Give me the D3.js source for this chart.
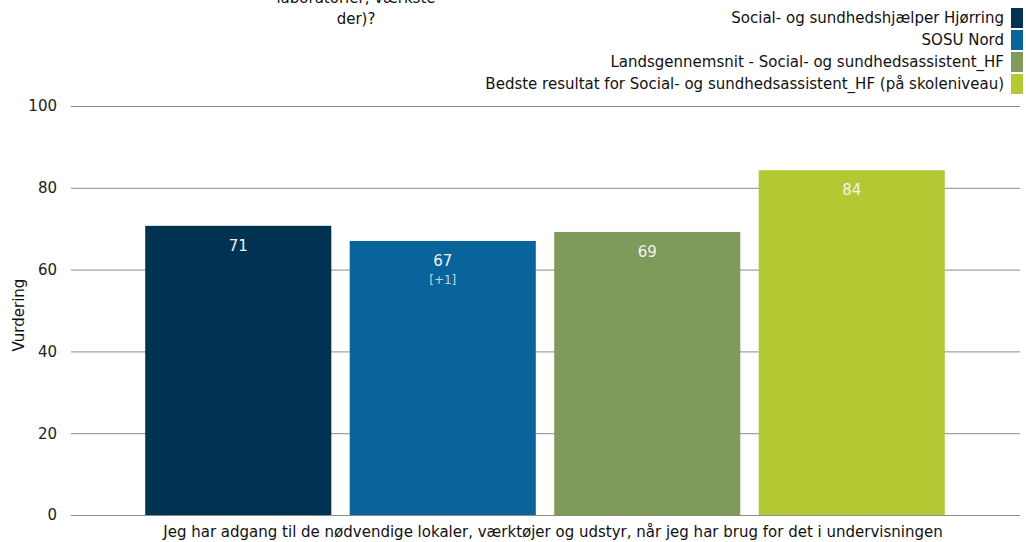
<!DOCTYPE html>
<html>
<head>
<meta charset="utf-8">
<script src="https://cdn.jsdelivr.net/npm/d3@7"></script>
<style>
  body { margin: 0; background: #fff; }
  svg text { font-family: "DejaVu Sans", Verdana, sans-serif; }
</style>
</head>
<body>
<div id="chart"></div>
<script>
// data
var seriesNames = [
    "Social- og sundhedshjælper Hjørring",
    "SOSU Nord",
    "Landsgennemsnit - Social- og sundhedsassistent_HF",
    "Bedste resultat for Social- og sundhedsassistent_HF (på skoleniveau)"
];
var seriesValues = [70.7, 67.0, 69.2, 84.3];
var valueLabels = ["71", "67", "69", "84"];
var changeLabels = ["", "[+1]", "", ""];
var seriesColors = ["#003352", "#08649a", "#7f9a5a", "#b3c833"];
var category = "Jeg har adgang til de nødvendige lokaler, værktøjer og udstyr, når jeg har brug for det i undervisningen";
var yTicks = [0, 20, 40, 60, 80, 100];
var titleLines = ["laboratorier, værkste", "der)?"];

var width = 1026, height = 542;

var svg = d3.select("#chart").append("svg")
    .attr("width", width)
    .attr("height", height);

var y = d3.scaleLinear()
    .domain([0, 100])
    .range([515, 106]);

var x = d3.scaleBand()
    .domain(seriesNames)
    .range([135, 955])
    .paddingInner(0.09)
    .paddingOuter(0.05);

// grid
var yAxis = d3.axisLeft(y)
    .tickValues(yTicks)
    .tickSize(-(1020 - 71))
    .tickPadding(14);

var ga = svg.append("g")
    .attr("transform", "translate(71,0)")
    .call(yAxis);
ga.select(".domain").remove();
ga.selectAll(".tick line").attr("stroke", "#8c8c8c").attr("stroke-width", 1);
ga.selectAll(".tick text")
    .attr("fill", "#222")
    .style("font-size", "15px");

// bars
svg.selectAll("rect.bar")
    .data(seriesNames)
    .enter()
    .append("rect")
    .attr("class", "bar")
    .attr("x", function (d) { return x(d); })
    .attr("width", x.bandwidth())
    .attr("y", function (d, i) { return y(seriesValues[i]); })
    .attr("height", function (d, i) { return y(0) - y(seriesValues[i]); })
    .attr("fill", function (d, i) { return seriesColors[i]; });

svg.selectAll("text.val")
    .data(seriesNames)
    .enter()
    .append("text")
    .attr("class", "val")
    .attr("x", function (d) { return x(d) + x.bandwidth() / 2; })
    .attr("y", function (d, i) { return y(seriesValues[i]) + 25; })
    .attr("text-anchor", "middle")
    .attr("fill", "#f2f2f2")
    .style("font-size", "15px")
    .text(function (d, i) { return valueLabels[i]; });

svg.selectAll("text.chg")
    .data(seriesNames)
    .enter()
    .append("text")
    .attr("class", "chg")
    .attr("x", function (d) { return x(d) + x.bandwidth() / 2; })
    .attr("y", function (d, i) { return y(seriesValues[i]) + 43; })
    .attr("text-anchor", "middle")
    .attr("fill", "#c8d4e0")
    .style("font-size", "12px")
    .text(function (d, i) { return changeLabels[i]; });

// category label
svg.append("text")
    .attr("x", 553)
    .attr("y", 537)
    .attr("text-anchor", "middle")
    .attr("fill", "#111")
    .style("font-size", "15px")
    .text(category);

// y axis title
svg.append("text")
    .attr("transform", "translate(24,315) rotate(-90)")
    .attr("text-anchor", "middle")
    .attr("fill", "#111")
    .style("font-size", "15px")
    .text("Vurdering");

// title (cut off at top, as in the source)
svg.selectAll("text.title")
    .data(titleLines)
    .enter()
    .append("text")
    .attr("class", "title")
    .attr("x", 356)
    .attr("y", function (d, i) { return 3 + i * 21; })
    .attr("text-anchor", "middle")
    .attr("fill", "#111")
    .style("font-size", "15px")
    .text(function (d) { return d; });

// legend
var legend = svg.selectAll("g.legend")
    .data(seriesNames)
    .enter()
    .append("g")
    .attr("class", "legend")
    .attr("transform", function (d, i) { return "translate(0," + (8 + i * 22) + ")"; });

legend.append("rect")
    .attr("x", 1011)
    .attr("y", 0)
    .attr("width", 12)
    .attr("height", 20)
    .attr("fill", function (d, i) { return seriesColors[i]; });

legend.append("text")
    .attr("x", 1004)
    .attr("y", 15)
    .attr("text-anchor", "end")
    .attr("fill", "#111")
    .style("font-size", "15px")
    .text(function (d) { return d; });
</script>
</body>
</html>
